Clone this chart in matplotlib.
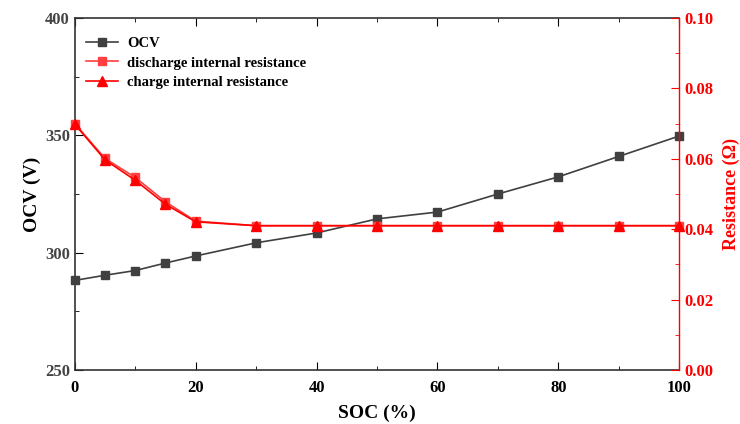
import matplotlib
matplotlib.use('Agg')
import matplotlib.pyplot as plt
from matplotlib.ticker import MultipleLocator

plt.rcParams['font.family'] = ['Liberation Serif', 'DejaVu Serif']
plt.rcParams['font.weight'] = 'bold'

soc = [0, 5, 10, 15, 20, 30, 40, 50, 60, 70, 80, 90, 100]
ocv = [288.2, 290.4, 292.4, 295.6, 298.6, 304.2, 308.4, 314.4, 317.3, 325.0, 332.3, 341.0, 349.7]
r_discharge = [0.0700, 0.0601, 0.0547, 0.0478, 0.0423, 0.0410, 0.0410, 0.0410, 0.0410, 0.0410, 0.0410, 0.0410, 0.0410]
r_charge = [0.0698, 0.0597, 0.0539, 0.0471, 0.0421, 0.0410, 0.0410, 0.0410, 0.0410, 0.0410, 0.0410, 0.0410, 0.0410]

fig = plt.figure(figsize=(7.4, 4.24), dpi=100)
ax = fig.add_axes([0.101, 0.127, 0.817, 0.831])
ax2 = ax.twinx()

l1, = ax.plot(soc, ocv, color='#404040', marker='s', markersize=6, lw=1.2,
              label='OCV', clip_on=False, zorder=3)
l2, = ax2.plot(soc, r_discharge, color='#ff4040', marker='s', markersize=6, lw=1.2,
               label='discharge internal resistance', clip_on=False)
l3, = ax2.plot(soc, r_charge, color='#ff0000', marker='^', markersize=7, lw=1.2,
               label='charge internal resistance', clip_on=False)

ax.set_xlim(0, 100)
ax.set_ylim(250, 400)
ax2.set_ylim(0, 0.10)

ax.xaxis.set_major_locator(MultipleLocator(20))
ax.xaxis.set_minor_locator(MultipleLocator(10))
ax.yaxis.set_major_locator(MultipleLocator(50))
ax.yaxis.set_minor_locator(MultipleLocator(25))
ax2.yaxis.set_major_locator(MultipleLocator(0.02))
ax2.yaxis.set_minor_locator(MultipleLocator(0.01))
ax2.yaxis.set_major_formatter(plt.FormatStrFormatter('%.2f'))

ax.tick_params(axis='x', which='both', direction='in', top=True, labelsize=12, colors='black', pad=7)
ax.tick_params(axis='x', which='major', length=6)
ax.tick_params(axis='x', which='minor', length=3)
ax.tick_params(axis='y', which='both', direction='in', labelsize=12, labelcolor='#444444')
ax.tick_params(axis='y', which='major', length=6)
ax.tick_params(axis='y', which='minor', length=3)
ax2.tick_params(axis='y', which='both', direction='in', colors='red', labelsize=12)
ax2.tick_params(axis='y', which='major', length=6)
ax2.tick_params(axis='y', which='minor', length=3)

for s in ['left', 'bottom', 'top']:
    ax.spines[s].set_color('#333333')
    ax.spines[s].set_linewidth(1.2)
ax2.spines['right'].set_color('red')
ax2.spines['right'].set_linewidth(1.0)
ax.spines['right'].set_visible(False)
ax2.spines['left'].set_visible(False)
ax2.spines['top'].set_visible(False)
ax2.spines['bottom'].set_visible(False)

ax.set_xlabel('SOC (%)', fontsize=14, fontweight='bold', labelpad=6)
ax.set_ylabel('OCV (V)', fontsize=14, fontweight='bold', labelpad=3)
ax2.set_ylabel('Resistance (Ω)', fontsize=13, fontweight='bold', color='red', labelpad=7)

ax.legend(handles=[l1, l2, l3], loc='upper left', bbox_to_anchor=(0.0, 0.98),
          frameon=False, fontsize=10.5, handlelength=2.2, handletextpad=0.6,
          borderaxespad=0.4, labelspacing=0.45)

fig.savefig('out.png', dpi=100)
